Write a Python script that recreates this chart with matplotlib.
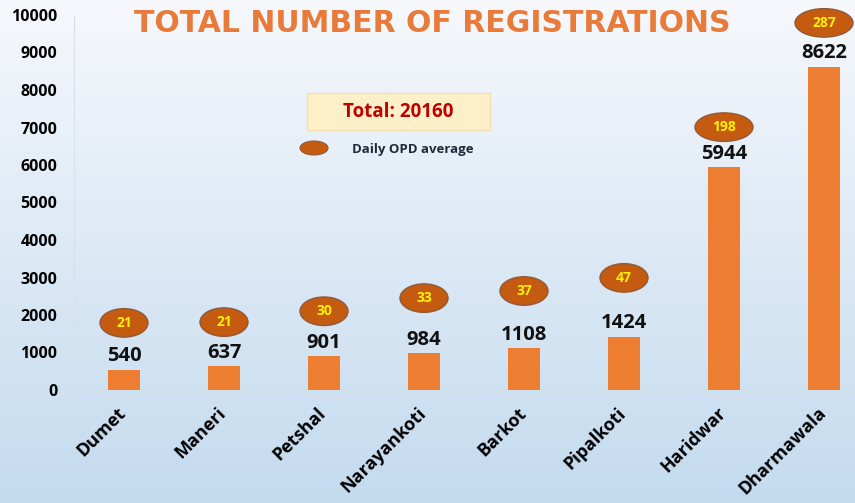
import numpy as np
import matplotlib.pyplot as plt
from matplotlib.patches import Ellipse, Rectangle
from matplotlib.colors import LinearSegmentedColormap
from matplotlib.transforms import ScaledTranslation

# data
centres = ['Dumet', 'Maneri', 'Petshal', 'Narayankoti', 'Barkot', 'Pipalkoti', 'Haridwar', 'Dharmawala']
registrations = [540, 637, 901, 984, 1108, 1424, 5944, 8622]
daily_opd = [21, 21, 30, 33, 37, 47, 198, 287]
badge_level = [1790, 1810, 2100, 2450, 2640, 2990, 7010, 9790]
total = 20160

BAR = '#ed7d31'
BADGE = '#c55a11'
BADGE_EDGE = '#8f5a3a'
BADGE_TEXT = '#fff200'

plt.rcParams['font.family'] = ['Open Sans', 'DejaVu Sans']

fig = plt.figure(figsize=(8.55, 5.03), dpi=100)

# soft white-to-blue background
bg = fig.add_axes([0, 0, 1, 1], zorder=-10)
grad = np.linspace(0, 1, 256).reshape(-1, 1)
cmap = LinearSegmentedColormap.from_list('bg', ['#f6f8fc', '#dde9f5', '#c4dbef'])
bg.imshow(grad, aspect='auto', cmap=cmap, extent=[0, 1, 0, 1], origin='upper')
bg.axis('off')

ax = fig.add_axes([74 / 855, 1 - 390 / 503, 1 - 74 / 855, (390 - 15) / 503])
ax.patch.set_alpha(0)
x = np.arange(len(centres))
ax.bar(x, registrations, width=0.32, color=BAR, zorder=3)

ax.set_xlim(-0.5, 7.31)
ax.set_ylim(0, 10000)
ax.set_yticks(range(0, 10001, 1000))
ax.tick_params(axis='y', length=0, pad=12, labelsize=11.5)
for lab in ax.get_yticklabels():
    lab.set_fontweight('bold')
ax.set_xticks(x)
ax.set_xticklabels(centres, rotation=45, ha='right', rotation_mode='anchor',
                   fontsize=13, fontweight='bold')
ax.tick_params(axis='x', length=0, pad=10)
shift = ScaledTranslation(-5 / 72, 0, fig.dpi_scale_trans)
for lab in ax.get_xticklabels():
    lab.set_transform(lab.get_transform() + shift)

for s in ['top', 'right']:
    ax.spines[s].set_visible(False)
ax.spines['left'].set_color('#d6e2ee')
ax.spines['bottom'].set_color('#d0deec')

# value labels above bars
for xi, v in zip(x, registrations):
    ax.annotate(str(v), (xi, v), xytext=(0, 6), textcoords='offset points',
                ha='center', va='baseline', fontsize=14.5, fontweight='bold', color='#111111')

# daily OPD badges
for xi, lvl, d in zip(x, badge_level, daily_opd):
    w = 0.58 if d >= 100 else 0.48
    ax.add_patch(Ellipse((xi, lvl), w, 760, facecolor=BADGE, edgecolor=BADGE_EDGE,
                         lw=1, zorder=4, clip_on=False))
    ax.text(xi, lvl, str(d), ha='center', va='center', fontsize=10,
            fontweight='bold', color=BADGE_TEXT, zorder=5)

# total box + legend
fig.patches.append(Rectangle((307 / 855, 1 - 130 / 503), 183 / 855, 37 / 503,
                             transform=fig.transFigure, facecolor='#fdf0c9',
                             edgecolor='#f3dfb0', lw=1))
fig.text(398 / 855, 1 - 112 / 503, f'Total: {total}', ha='center', va='center',
         fontsize=13.5, fontweight='bold', color='#c00000')
fig.patches.append(Ellipse((314 / 855, 1 - 148 / 503), 28 / 855, 14 / 503,
                           transform=fig.transFigure, facecolor=BADGE, edgecolor=BADGE_EDGE, lw=0.8))
fig.text(352 / 855, 1 - 149 / 503, 'Daily OPD average', ha='left', va='center',
         fontsize=9.5, fontweight='bold', color='#1f2a3a')

fig.text(432 / 855, 1 - 23 / 503, 'TOTAL NUMBER OF REGISTRATIONS', ha='center', va='center',
         fontsize=21.5, fontweight='bold', color='#e87b3a', family='DejaVu Sans')

fig.savefig('out.png', dpi=100)
